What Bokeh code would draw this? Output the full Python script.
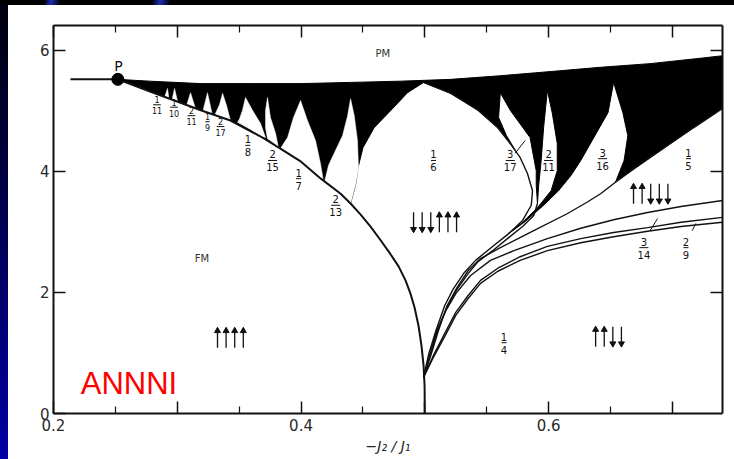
from bokeh.plotting import figure
from bokeh.models import LinearAxis, FixedTicker, Range1d, Label, CustomJSTickFormatter
from bokeh.core.properties import value
from bokeh.embed import file_html
from bokeh.resources import INLINE

# ---- axis extents -------------------------------------------------------
X_LO, X_HI = 0.2, 0.7405          # -J2/J1
T_LO, T_HI = 0.0, 6.41            # temperature

# ---- Lifshitz point and the Ising line that ends on it -----------------
lifshitz_x = [0.252]
lifshitz_t = [5.52]
ising_x = [0.2137, 0.252]
ising_t = [5.52, 5.52]

# ---- paramagnetic boundary (upper edge of the modulated band) ----------
pm_x = [0.252, 0.278, 0.319, 0.359, 0.400, 0.440, 0.480, 0.521, 0.561, 0.602, 0.642, 0.682, 0.723, 0.7405]
pm_t = [5.52, 5.49, 5.45, 5.45, 5.45, 5.47, 5.49, 5.52, 5.58, 5.65, 5.72, 5.78, 5.87, 5.91]

# ---- ferromagnetic boundary, from P down to the multiphase point -------
fm_x = [0.252, 0.278, 0.319, 0.343, 0.367, 0.383, 0.400, 0.416, 0.432, 0.440,
        0.448, 0.456, 0.464, 0.472, 0.4788, 0.4844, 0.4884, 0.4917, 0.4949, 0.4973,
        0.499, 0.4998, 0.500]
fm_t = [5.52, 5.32, 5.01, 4.84, 4.58, 4.38, 4.16, 3.88, 3.63, 3.47,
        3.29, 3.09, 2.87, 2.64, 2.43, 2.20, 1.98, 1.75, 1.45, 1.12,
        0.79, 0.46, 0.00]

# ---- <3> (1/6) phase: left edge from its apex, and right edge to the multiphase point
sixth_left_x = [0.499, 0.486, 0.475, 0.459, 0.450, 0.446, 0.444, 0.440]
sixth_left_t = [5.47, 5.30, 5.06, 4.72, 4.39, 4.06, 3.77, 3.47]
sixth_right_x = [0.499, 0.521, 0.543, 0.559, 0.569, 0.577, 0.583, 0.587, 0.586, 0.579,
                 0.567, 0.553, 0.541, 0.532, 0.523, 0.516, 0.509, 0.503, 0.499]
sixth_right_t = [5.47, 5.29, 5.01, 4.72, 4.46, 4.23, 3.96, 3.68, 3.44, 3.19,
                 2.96, 2.73, 2.53, 2.33, 2.06, 1.78, 1.37, 0.97, 0.60]

# ---- 3/17, 2/11 and 3/16 tongues (edges) --------------------------------
t317_right_x = [0.590, 0.590, 0.585, 0.569, 0.561]
t317_right_t = [3.77, 4.01, 4.56, 5.01, 5.30]
t317_left_x = [0.561, 0.5596, 0.566, 0.573]
t317_left_t = [5.30, 4.89, 4.59, 4.35]
t211_right_x = [0.567, 0.579, 0.591, 0.602, 0.607, 0.607, 0.603, 0.599]
t211_right_t = [2.96, 3.16, 3.40, 3.68, 4.01, 4.46, 4.96, 5.34]
t211_left_x = [0.599, 0.596, 0.594, 0.592, 0.591]
t211_left_t = [5.34, 4.73, 4.18, 3.77, 3.47]
t316_right_x = [0.654, 0.661, 0.664, 0.660, 0.6525]
t316_right_t = [3.82, 4.18, 4.59, 4.97, 5.47]
t316_left_x = [0.6525, 0.648, 0.636, 0.626, 0.618, 0.608, 0.596, 0.581, 0.567]
t316_left_t = [5.47, 4.97, 4.54, 4.18, 3.93, 3.68, 3.44, 3.17, 2.96]

# ---- lines fanning out of the multiphase point -------------------------
b317_x = [0.591, 0.588, 0.579, 0.568, 0.556, 0.543, 0.535, 0.526, 0.518, 0.510, 0.504, 0.499]
b317_t = [3.47, 3.27, 3.09, 2.91, 2.71, 2.51, 2.31, 2.05, 1.77, 1.35, 0.96, 0.60]
fifth_top_x = [0.7405, 0.717, 0.690, 0.666, 0.654, 0.642, 0.631, 0.615, 0.588, 0.561,
               0.545, 0.535, 0.526, 0.518, 0.511, 0.505, 0.499]
fifth_top_t = [5.04, 4.72, 4.34, 4.00, 3.82, 3.63, 3.49, 3.30, 3.02, 2.74,
               2.56, 2.36, 2.08, 1.78, 1.37, 0.97, 0.60]
fifth_low_x = [0.7405, 0.707, 0.680, 0.6525, 0.626, 0.599, 0.572, 0.553, 0.537, 0.525, 0.517, 0.509, 0.504, 0.499]
fifth_low_t = [3.52, 3.42, 3.32, 3.20, 3.06, 2.89, 2.69, 2.53, 2.28, 1.98, 1.70, 1.34, 0.96, 0.60]
lower_x = [0.7405, 0.707, 0.680, 0.6525, 0.626, 0.599, 0.577, 0.559, 0.545, 0.535, 0.525, 0.516, 0.507, 0.499]
b314_t = [3.24, 3.16, 3.07, 2.99, 2.89, 2.76, 2.59, 2.40, 2.20, 1.95, 1.67, 1.32, 0.96, 0.60]
b29_t = [3.16, 3.09, 3.01, 2.92, 2.82, 2.69, 2.53, 2.35, 2.15, 1.90, 1.62, 1.27, 0.93, 0.60]

# ---- commensurate tongues rising from the FM boundary ------------------
tongue_x = [
    [0.440, 0.4376, 0.4335, 0.4279, 0.4222, 0.419, 0.432, 0.440, 0.444, 0.4464, 0.4456, 0.443],  # 2/13
    [0.3996, 0.3939, 0.3891, 0.385, 0.3834, 0.3996, 0.4157, 0.418, 0.4157, 0.4117, 0.4052],      # 1/7
    [0.3729, 0.3713, 0.3713, 0.3729, 0.3770, 0.3818, 0.3794, 0.3753],                           # 2/15
    [0.3551, 0.3527, 0.3503, 0.3487, 0.3592, 0.3673, 0.3713, 0.3673, 0.3608],                   # 1/8
    [0.3366, 0.3341, 0.330, 0.343, 0.3398],                                                     # 2/17
    [0.3244, 0.3204, 0.3285],                                                                   # 1/9
    [0.3107, 0.3075, 0.3147],                                                                   # 2/11
    [0.2978, 0.2953, 0.301],                                                                    # 1/10
    [0.2921, 0.2897, 0.2937],                                                                   # 1/11
]
tongue_t = [
    [5.20, 4.92, 4.59, 4.35, 4.10, 3.83, 3.63, 3.47, 3.77, 4.06, 4.51, 4.92],
    [5.17, 4.89, 4.56, 4.43, 4.38, 4.16, 3.88, 3.85, 4.13, 4.51, 4.84],
    [5.22, 5.01, 4.72, 4.54, 4.48, 4.39, 4.63, 4.89],
    [5.22, 5.01, 4.87, 4.81, 4.69, 4.58, 4.56, 4.79, 5.01],
    [5.29, 5.10, 4.92, 4.84, 5.09],
    [5.30, 4.97, 4.92],
    [5.30, 5.09, 5.04],
    [5.37, 5.14, 5.09],
    [5.37, 5.22, 5.14],
]

# ---- wavevector labels ---------------------------------------------------
frac_num = ["1", "1", "2", "1", "2", "1", "2", "1", "2", "1", "3", "2", "3", "1", "3", "2", "1"]
frac_den = ["11", "10", "11", "9", "17", "8", "15", "7", "13", "6", "17", "11", "16", "5", "14", "9", "4"]
frac_x = [0.2836, 0.2974, 0.3115, 0.3244, 0.335, 0.357, 0.377, 0.398, 0.428,
          0.507, 0.569, 0.600, 0.6436, 0.713, 0.677, 0.711, 0.564]
frac_t = [5.10, 5.06, 4.92, 4.82, 4.74, 4.43, 4.18, 3.88, 3.44,
          4.18, 4.18, 4.18, 4.21, 4.21, 2.74, 2.74, 1.17]
frac_small = [True] * 5 + [False] * 12

# leader lines from the 3/17, 3/14 and 2/9 labels
leader_x0 = [0.573, 0.688, 0.719]
leader_t0 = [4.30, 3.22, 3.14]
leader_x1 = [0.581, 0.682, 0.716]
leader_t1 = [4.51, 3.02, 3.02]

# ---- spin configurations -------------------------------------------------
spin_seq = ["↑↑↑↑", "↓↓↓↑↑↑", "↑↑↓↓↓", "↑↑↓↓"]
spin_x0 = [0.3325, 0.4909, 0.6686, 0.638]
spin_t = [1.25, 3.16, 3.63, 1.27]

# ---- figure ------------------------------------------------------------
W, H = 734, 459
BL, BR, BT, BB = 53, 12, 25, 46
FW, FH = W - BL - BR, H - BT - BB
PX = (X_HI - X_LO) / FW        # data units per screen pixel
PT = (T_HI - T_LO) / FH

p = figure(width=W, height=H, x_range=Range1d(X_LO, X_HI), y_range=Range1d(T_LO, T_HI),
           output_backend="svg", toolbar_location=None,
           min_border_left=BL, min_border_right=BR, min_border_top=BT, min_border_bottom=BB)
p.xgrid.visible = False
p.ygrid.visible = False
p.background_fill_color = "white"
p.border_fill_color = None
p.outline_line_color = None
p.styles = {
    "background": (
        "linear-gradient(100deg, #000 0px, #000 44px, #1b2fb8 50px, #000 60px, #000 150px, "
        "#1b2fb8 158px, #000 168px, #000 100%) 0 0 / 100% 5px no-repeat, "
        "linear-gradient(to right, rgba(0,0,0,0) 8px, #ffffff 8px), "
        "linear-gradient(to bottom, #00000c 0%, #000045 40%, #0000a5 100%)"
    )
}

ink = "#111111"
tick_font = value("DejaVu Sans")

x_ticker = FixedTicker(ticks=[0.2, 0.3, 0.4, 0.5, 0.6, 0.7],
                       minor_ticks=[0.25, 0.35, 0.45, 0.55, 0.65])

xa = p.xaxis[0]
xa.ticker = x_ticker
# only every other major tick carries a number
xa.formatter = CustomJSTickFormatter(
    code="const v = Math.round(tick * 10); return (v % 2 === 0) ? tick.toFixed(1) : '';")
xa.axis_label = "−J₂ / J₁"
xa.axis_label_text_font_style = "italic"
xa.axis_label_text_font_size = "14px"
xa.axis_label_text_font = "DejaVu Sans"
xa.axis_label_text_color = "#222222"
xa.axis_label_standoff = 4

ya = p.yaxis[0]
ya.ticker = FixedTicker(ticks=[0, 2, 4, 6], minor_ticks=[])

blank = CustomJSTickFormatter(code="return '';")
top = LinearAxis(ticker=x_ticker, formatter=blank)
right = LinearAxis(ticker=FixedTicker(ticks=[2, 4, 6], minor_ticks=[]), formatter=blank)
p.add_layout(top, "above")
p.add_layout(right, "right")

for ax in (xa, ya, top, right):
    ax.axis_line_color = ink
    ax.axis_line_width = 2
    ax.major_tick_line_color = ink
    ax.major_tick_line_width = 1.5
    ax.minor_tick_line_color = ink
    ax.minor_tick_line_width = 1.2
    ax.major_tick_in = 12
    ax.major_tick_out = 0
    ax.minor_tick_in = 7
    ax.minor_tick_out = 0
    ax.major_label_text_color = "#2a2a2a"
    ax.major_label_text_font = "DejaVu Sans"
    ax.major_label_text_font_size = "15px"
xa.major_label_standoff = 5
ya.major_label_standoff = 4

p.add_layout(Label(x=X_LO - 26 * PX, y=2.86, text="T", text_font_style="italic",
                   text_font_size="15px", text_font="DejaVu Sans", text_color="#222222",
                   text_align="center", text_baseline="middle"))

# ---- modulated (incommensurate) band, drawn in black ---------------------
band_x = (pm_x
          + fifth_top_x[:5]
          + t316_right_x[1:] + t316_left_x[1:]
          + t211_right_x[1:] + t211_left_x[1:]
          + t317_right_x + t317_left_x[1:]
          + sixth_right_x[4::-1]
          + sixth_left_x[1:]
          + fm_x[8:0:-1])
band_t = (pm_t
          + fifth_top_t[:5]
          + t316_right_t[1:] + t316_left_t[1:]
          + t211_right_t[1:] + t211_left_t[1:]
          + t317_right_t + t317_left_t[1:]
          + sixth_right_t[4::-1]
          + sixth_left_t[1:]
          + fm_t[8:0:-1])
p.patch(band_x, band_t, fill_color="black", line_color="black", line_width=1)

# commensurate tongues cut out of the band
p.patches(tongue_x, tongue_t, fill_color="white", line_color="white", line_width=0.5)

# ---- phase boundaries ---------------------------------------------------
p.line(ising_x, ising_t, line_color=ink, line_width=2)
p.line(fm_x, fm_t, line_color=ink, line_width=2)
p.multi_line([sixth_right_x, b317_x, fifth_top_x, fifth_low_x, lower_x, lower_x],
             [sixth_right_t, b317_t, fifth_top_t, fifth_low_t, b314_t, b29_t],
             line_color=ink, line_width=1.4)
p.segment(leader_x0, leader_t0, leader_x1, leader_t1, line_color=ink, line_width=1)
p.scatter(lifshitz_x, lifshitz_t, size=12, marker="circle", fill_color="black", line_color="black")

# ---- wavevector fractions ------------------------------------------------
for num, den, x, t, small in zip(frac_num, frac_den, frac_x, frac_t, frac_small):
    fs = 8 if small else 10
    dy = 5 if small else 6
    p.text([x], [t], text=[num], text_font=tick_font, text_font_size=f"{fs}px",
           text_color=ink, text_align="center", text_baseline="middle", y_offset=-dy)
    p.text([x], [t], text=[den], text_font=tick_font, text_font_size=f"{fs}px",
           text_color=ink, text_align="center", text_baseline="middle", y_offset=dy + 1)
    hw = (2.5 if len(den) == 1 else 4.5) * PX
    if small:
        hw *= 0.85
    p.segment([x - hw], [t], [x + hw], [t], line_color=ink, line_width=1)

# ---- phase names -----------------------------------------------------------
p.text([0.466], [5.95], text=["PM"], text_font=tick_font, text_font_size="10px",
       text_color="#333333", text_align="center", text_baseline="middle")
p.text([0.320], [2.56], text=["FM"], text_font=tick_font, text_font_size="10px",
       text_color="#333333", text_align="center", text_baseline="middle")
p.text([0.2525], [5.74], text=["P"], text_font=tick_font, text_font_size="14px",
       text_color=ink, text_align="center", text_baseline="middle")

# ---- spin arrows -----------------------------------------------------------
step = 8.6 * PX
half = 10 * PT
head = 3 * PT
for seq, x0, t in zip(spin_seq, spin_x0, spin_t):
    xs = [x0 + i * step for i in range(len(seq))]
    ups = [c == "↑" for c in seq]
    p.segment(xs, [t - half] * len(xs), xs, [t + half] * len(xs), line_color=ink, line_width=1.3)
    ux = [x for x, u in zip(xs, ups) if u]
    dx = [x for x, u in zip(xs, ups) if not u]
    if ux:
        p.scatter(ux, [t + half - head] * len(ux), marker="triangle", size=6,
                  fill_color=ink, line_color=ink)
    if dx:
        p.scatter(dx, [t - half + head] * len(dx), marker="inverted_triangle", size=6,
                  fill_color=ink, line_color=ink)

# ---- model name ---------------------------------------------------------------
p.text([0.222], [0.50], text=["ANNNI"], text_font=value("Liberation Sans"),
       text_font_size="31px", text_color="#ff0000", text_align="left",
       text_baseline="alphabetic")

open("out.html", "w").write(file_html(p, INLINE))
